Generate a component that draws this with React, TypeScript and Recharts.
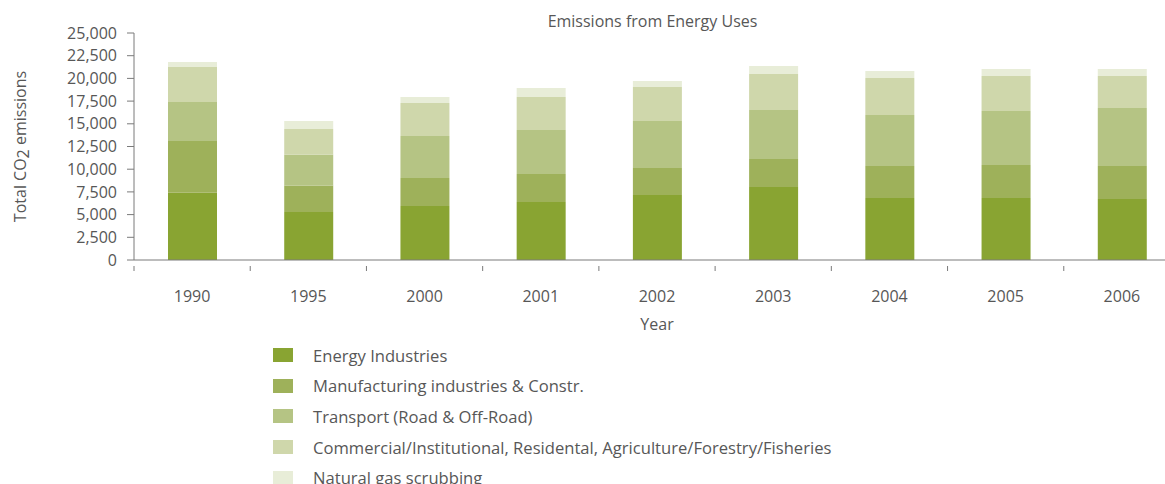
import { BarChart, Bar, XAxis, YAxis, Legend } from "recharts"

const YEARS = ["1990", "1995", "2000", "2001", "2002", "2003", "2004", "2005", "2006"]
const ENERGY = [7400, 5300, 5950, 6390, 7160, 8040, 6830, 6830, 6720]
const MANUFACTURING = [5700, 2900, 3080, 3080, 2970, 3080, 3520, 3630, 3630]
const TRANSPORT = [4300, 3380, 4630, 4850, 5180, 5400, 5620, 5950, 6390]
const COMMERCIAL = [3850, 2860, 3630, 3630, 3740, 3960, 4070, 3850, 3520]
const GAS = [550, 880, 660, 990, 660, 880, 770, 770, 770]
const Y_TICKS = [0, 2500, 5000, 7500, 10000, 12500, 15000, 17500, 20000, 22500, 25000]

const SERIES = [
  { key: "energy", name: "Energy Industries", color: "#89a432", values: ENERGY },
  { key: "manufacturing", name: "Manufacturing industries & Constr.", color: "#9eb15a", values: MANUFACTURING },
  { key: "transport", name: "Transport (Road & Off-Road)", color: "#b5c484", values: TRANSPORT },
  { key: "commercial", name: "Commercial/Institutional, Residental, Agriculture/Forestry/Fisheries", color: "#cfd7ab", values: COMMERCIAL },
  { key: "gas", name: "Natural gas scrubbing", color: "#e8edd8", values: GAS },
]

const data = YEARS.map((year, i) => {
  const row: Record<string, string | number> = { year }
  SERIES.forEach((s) => { row[s.key] = s.values[i] })
  return row
})

const FONT = "'Open Sans', sans-serif"
const TEXT = "#575757"
const AXIS = "#7a7a7a"
const CHART_W = 1190
const CHART_H = 495
const Y_AXIS_W = 134
const MARGIN = { top: 33, right: 10, left: 0, bottom: 0 }
const BAND = (CHART_W - Y_AXIS_W - MARGIN.right) / YEARS.length

const XTick = (props: any) => {
  const { x, y, payload, index } = props
  return (
    <g>
      {index === 0 && <line x1={x - BAND / 2} x2={x - BAND / 2} y1={y} y2={y + 5} stroke={AXIS} />}
      <line x1={x + BAND / 2} x2={x + BAND / 2} y1={y} y2={y + 5} stroke={AXIS} />
      <text x={x} y={y + 36} textAnchor="middle" fill={TEXT} fontSize={16} fontFamily={FONT}>
        {payload.value}
      </text>
    </g>
  )
}

const YLabel = (props: any) => {
  const { viewBox } = props
  const cx = 20
  const cy = viewBox.y + viewBox.height / 2
  return (
    <text x={cx} y={cy} transform={`rotate(-90 ${cx} ${cy})`} textAnchor="middle" dominantBaseline="central"
      fill={TEXT} fontSize={16} fontFamily={FONT}>
      Total CO<tspan dy={3}>2</tspan><tspan dy={-3}> emissions</tspan>
    </text>
  )
}

const XLabel = (props: any) => {
  const { viewBox } = props
  return (
    <text x={viewBox.x + viewBox.width / 2} y={viewBox.y + 70} textAnchor="middle" fill={TEXT} fontSize={16} fontFamily={FONT}>
      Year
    </text>
  )
}

const LegendContent = () => (
  <div style={{ height: 155, paddingLeft: 273, fontFamily: FONT, fontSize: 16.6, color: TEXT }}>
    {SERIES.map((s) => (
      <div key={s.key} style={{ height: 30.6, display: "flex", alignItems: "center" }}>
        <span style={{ width: 20, height: 14, background: s.color, marginRight: 20, display: "inline-block" }} />
        <span>{s.name}</span>
      </div>
    ))}
  </div>
)

export default function App() {
  return (
    <div style={{ position: "absolute", left: 0, top: 0, width: 1165, height: 484, overflow: "hidden", background: "#fff" }}>
      <div style={{ position: "absolute", left: 0, width: 1305, top: 10, textAlign: "center", fontFamily: FONT, fontSize: 16, color: TEXT }}>
        Emissions from Energy Uses
      </div>
      <BarChart width={CHART_W} height={CHART_H} data={data} margin={MARGIN}>
        <XAxis dataKey="year" height={80} tick={<XTick />} tickLine={false} tickMargin={0} stroke={AXIS}
          interval={0} label={<XLabel />} />
        <YAxis width={Y_AXIS_W} domain={[0, 25000]} ticks={Y_TICKS} interval={0} tickSize={7} tickMargin={10} stroke={AXIS}
          tick={{ fill: TEXT, fontSize: 16, fontFamily: FONT }} tickFormatter={(v: number) => v.toLocaleString("en-US")}
          label={<YLabel />} />
        <Legend verticalAlign="bottom" align="left" content={<LegendContent />} />
        {SERIES.map((s) => (
          <Bar key={s.key} dataKey={s.key} name={s.name} stackId="a" fill={s.color} barSize={49} isAnimationActive={false} />
        ))}
      </BarChart>
    </div>
  )
}
